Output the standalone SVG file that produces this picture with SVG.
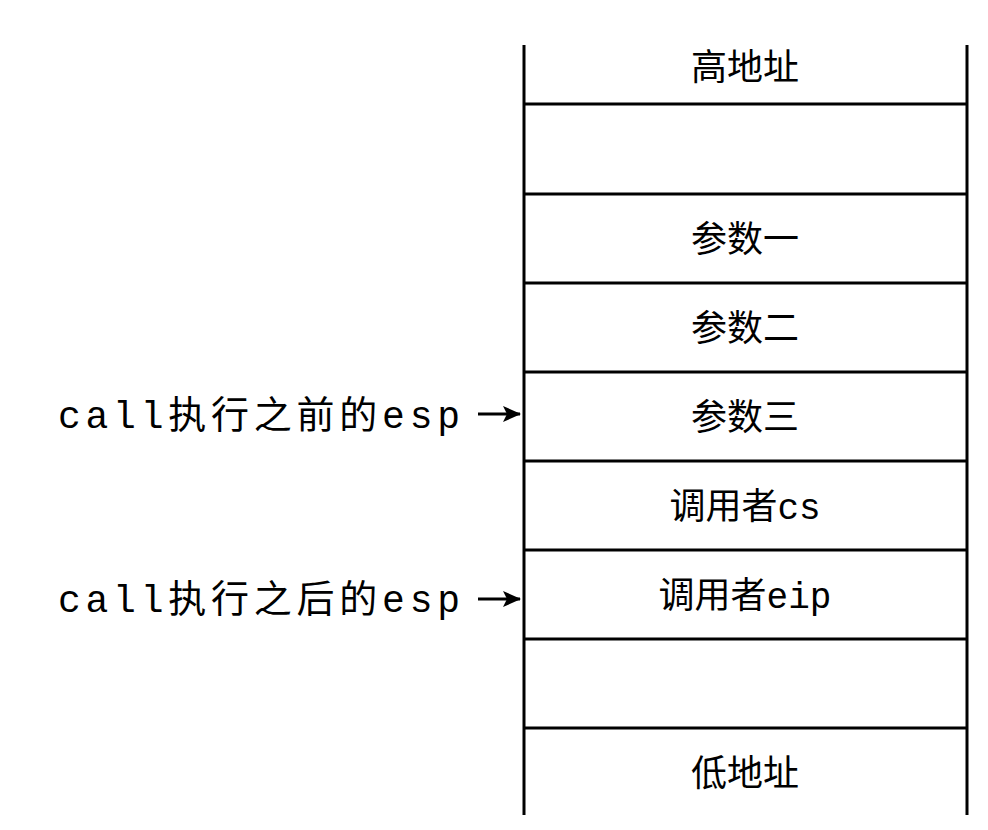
<svg xmlns="http://www.w3.org/2000/svg" width="988" height="830" viewBox="0 0 988 830">
<style>
.l{stroke:#000;stroke-width:3;fill:none}
text{font-family:"Liberation Mono","Noto Sans CJK SC",monospace;font-size:36px;fill:#000}
.c{text-anchor:middle}
.s{font-size:38px}
</style>
<defs><marker id="a" markerWidth="18" markerHeight="16" refX="17" refY="8" orient="auto" markerUnits="userSpaceOnUse"><path d="M0,0 L18,8 L0,16 L4,8 Z" fill="#000"/></marker></defs>
<rect width="988" height="830" fill="#fff"/>
<g id="stack">
<line class="l" x1="524" y1="45" x2="524" y2="815"/>
<line class="l" x1="967" y1="45" x2="967" y2="815"/>
<line class="l" x1="524" y1="104" x2="967" y2="104"/>
<line class="l" x1="524" y1="194" x2="967" y2="194"/>
<line class="l" x1="524" y1="283" x2="967" y2="283"/>
<line class="l" x1="524" y1="372" x2="967" y2="372"/>
<line class="l" x1="524" y1="461" x2="967" y2="461"/>
<line class="l" x1="524" y1="550" x2="967" y2="550"/>
<line class="l" x1="524" y1="639" x2="967" y2="639"/>
<line class="l" x1="524" y1="728" x2="967" y2="728"/>
</g>
<g id="n1"><text class="c" x="745" y="80">高地址</text></g>
<g id="n2"><text class="c" x="745" y="252">参数一</text></g>
<g id="n3"><text class="c" x="745" y="341">参数二</text></g>
<g id="n4"><text class="c" x="745" y="430">参数三</text></g>
<g id="n5"><text class="c" x="745" y="519">调用者cs</text></g>
<g id="n6"><text class="c" x="745" y="608">调用者eip</text></g>
<g id="n7"><text class="c" x="745" y="786">低地址</text></g>
<g id="lab1"><text class="s" x="58" y="428" textLength="402" lengthAdjust="spacing">call执行之前的esp</text></g>
<g id="lab2"><text class="s" x="58" y="612" textLength="402" lengthAdjust="spacing">call执行之后的esp</text></g>
<g id="connectors">
<line class="l" x1="478" y1="414" x2="520" y2="414" marker-end="url(#a)"/>
<line class="l" x1="478" y1="599" x2="520" y2="599" marker-end="url(#a)"/>
</g>
</svg>
